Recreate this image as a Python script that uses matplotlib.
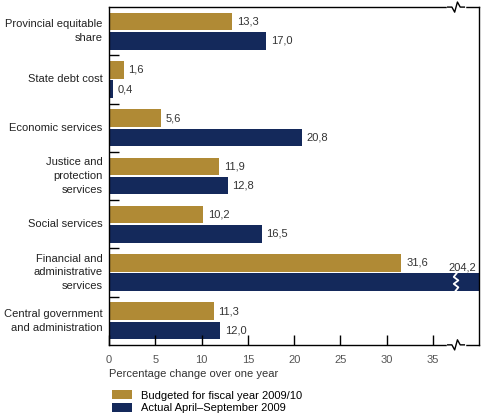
import matplotlib.pyplot as plt
import numpy as np

plt.rcParams['font.family'] = ['Liberation Sans', 'DejaVu Sans']

categories = [
    "Provincial equitable\nshare",
    "State debt cost",
    "Economic services",
    "Justice and\nprotection\nservices",
    "Social services",
    "Financial and\nadministrative\nservices",
    "Central government\nand administration",
]
budgeted = [13.3, 1.6, 5.6, 11.9, 10.2, 31.6, 11.3]
actual = [17.0, 0.4, 20.8, 12.8, 16.5, 204.2, 12.0]
xticks = [0, 5, 10, 15, 20, 25, 30, 35]

gold = "#B08A35"
navy = "#14295B"
XMAX = 40
BREAK = 37.5
FS = 8


def fmt(v):
    return f"{v:.1f}".replace(".", ",")


fig = plt.figure(figsize=(4.85, 4.17), dpi=100)
ax = fig.add_axes([0.225, 0.173, 0.763, 0.81])

y = np.arange(len(categories))
h = 0.36
ax.barh(y - 0.2, budgeted, height=h, color=gold, label="Budgeted for fiscal year 2009/10")
ax.barh(y + 0.2, np.minimum(actual, XMAX), height=h, color=navy,
        label="Actual April\u2013September 2009")

for i, (b, a) in enumerate(zip(budgeted, actual)):
    ax.text(b + 0.5, i - 0.2, fmt(b), va="center", ha="left", fontsize=FS, color="#333333")
    if a > XMAX:
        ax.text(XMAX - 0.3, i + 0.2 - h / 2 - 0.01, fmt(a), va="bottom", ha="right",
                fontsize=FS, color="#333333")
        # break mark in the long bar
        zx = BREAK + np.array([0.05, -0.25, 0.25, -0.25, 0.25, -0.05])
        zy = i + 0.2 + np.linspace(-h / 2, h / 2, len(zx))
        ax.plot(zx, zy, color="white", lw=1.3, zorder=4)
    else:
        ax.text(a + 0.5, i + 0.2, fmt(a), va="center", ha="left", fontsize=FS, color="#333333")

ax.set_xlim(0, XMAX)
ax.set_ylim(len(categories) - 0.5, -0.5)
ax.set_xticks(xticks)
ax.set_xticklabels([str(t) for t in xticks], fontsize=FS, color="#555555")
ax.tick_params(axis="x", direction="in", length=7, width=1, pad=7)
ax.set_yticks(np.arange(len(categories) - 1) + 0.5)
ax.set_yticklabels([])
ax.tick_params(axis="y", direction="in", length=7, width=1)
for i, c in enumerate(categories):
    ax.text(-0.7, i, c, ha="right", va="center", fontsize=FS, color="#222222",
            linespacing=1.45, transform=ax.transData)

for s in ax.spines.values():
    s.set_linewidth(1)

ax.set_xlabel("Percentage change over one year", fontsize=FS, color="#333333",
              loc="left", labelpad=3)

# break marks on top and bottom spines
tr = ax.get_xaxis_transform()
for yy in (0, 1):
    ax.plot([BREAK - 0.9, BREAK + 0.9], [yy, yy], color="white", lw=2.5,
            transform=tr, clip_on=False, zorder=5)
    zx = BREAK + np.array([-0.9, -0.45, -0.15, 0.15, 0.45, 0.9])
    zy = yy + np.array([0, 0, -0.015, 0.015, 0, 0])
    ax.plot(zx, zy, color="black", lw=1, transform=tr, clip_on=False, zorder=6)

fig.legend(loc="lower left", bbox_to_anchor=(0.215, -0.01), frameon=False, fontsize=FS,
           handlelength=1.8, handleheight=0.8, labelspacing=0.25, handletextpad=0.8,
           borderaxespad=0.3)

fig.savefig("out.png", dpi=100)
